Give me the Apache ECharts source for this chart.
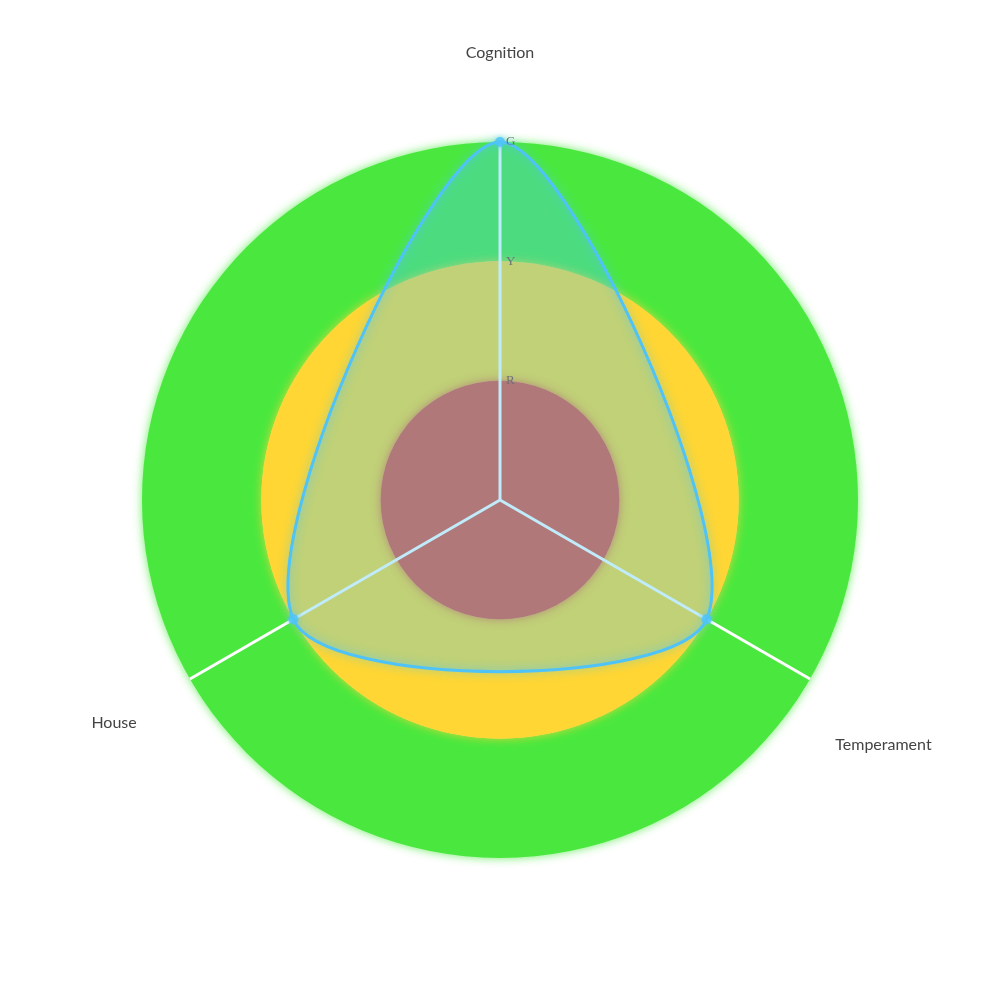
<!DOCTYPE html>
<html><head><meta charset="utf-8">
<style>html,body{margin:0;padding:0;background:#fff}#c{width:1000px;height:1000px}</style>
<script src="https://cdn.jsdelivr.net/npm/echarts@6/dist/echarts.min.js"></script>
</head><body><div id="c"></div>
<script>
const indicatorNames = ['Cognition', 'House', 'Temperament'];
const indicatorMax = [3, 3, 3];
const seriesValues = [3, 2, 2];
const tickLabels = ['', 'R', 'Y', 'G'];
const bandColors = ['#E64B34', '#FFD633', '#4AE83F'];
const bandShadows = ['rgba(230,75,52,0.8)', 'rgba(255,214,51,0.8)', 'rgba(74,232,63,0.8)'];

const R = 358;
const nameKeys = ['n0', 'n1', 'n2'];
const nameFont = { fontFamily: 'Lato', fontSize: 16, color: '#444' };
const indicators = indicatorNames.map((n, i) => ({ name: n, max: indicatorMax[i], min: 0 }));

// one radar per band so each band gets its own soft edge
function bandRadar(k, withNames) {
  const colors = [];
  for (let j = 0; j <= k; j++) colors.push(j === k ? bandColors[k] : 'rgba(0,0,0,0)');
  return {
    center: ['50%', '50%'],
    radius: R * (k + 1) / 3,
    startAngle: 90,
    shape: 'circle',
    splitNumber: k + 1,
    indicator: indicators,
    nameGap: 28 + R * (2 - k) / 3,
    axisName: withNames ? {
      fontFamily: 'Lato', fontSize: 16, color: '#444',
      formatter: (name) => '{' + nameKeys[indicatorNames.indexOf(name)] + '|' + name + '}',
      rich: {
        n0: Object.assign({ padding: [0, 0, 53, 0] }, nameFont),
        n1: Object.assign({ padding: [60, 29, 0, 0] }, nameFont),
        n2: Object.assign({ padding: [104, 0, 0, 1] }, nameFont)
      }
    } : { show: false },
    splitArea: { show: true, areaStyle: { color: colors, shadowBlur: 10, shadowColor: bandShadows[k] } },
    splitLine: { show: false },
    axisLine: { show: false },
    axisTick: { show: false },
    axisLabel: { show: false }
  };
}

const chart = echarts.init(document.getElementById('c'));
chart.setOption({
  animation: false,
  radar: [bandRadar(2, true), bandRadar(1, false), bandRadar(0, false)],
  polar: { center: ['50%', '50%'], radius: R },
  angleAxis: {
    type: 'category', data: indicatorNames, startAngle: 90, clockwise: false, boundaryGap: false,
    axisLine: { show: false }, axisTick: { show: false }, axisLabel: { show: false },
    splitLine: { show: true, lineStyle: { color: '#fff', width: 3 } }, splitArea: { show: false },
    z: 3
  },
  radiusAxis: {
    type: 'value', min: 0, max: 3, interval: 1,
    axisLine: { show: false }, axisTick: { show: false },
    splitLine: { show: false }, splitArea: { show: false },
    axisLabel: {
      show: true, showMinLabel: false, margin: -6, align: 'left',
      fontFamily: 'Liberation Serif', fontSize: 13, color: '#6E7079',
      formatter: v => tickLabels[Math.round(v)] || ''
    },
    z: 10
  },
  series: [{
    type: 'custom',
    coordinateSystem: 'polar',
    z: 5,
    clip: false,
    data: seriesValues.map((v, i) => [v, i]),
    renderItem: (params, api) => {
      if (params.dataIndex !== 0) return null;
      const pts = seriesValues.map((v, i) => api.coord([v, i]));
      return {
        type: 'group',
        children: [{
          type: 'polygon',
          shape: { points: pts, smooth: 0.33 },
          style: { fill: 'rgba(80,200,240,0.36)', stroke: 'none' }
        }, {
          type: 'polygon',
          shape: { points: pts, smooth: 0.33 },
          style: {
            fill: 'none', stroke: '#4FC3F7', lineWidth: 3,
            shadowBlur: 10, shadowColor: 'rgba(80,200,240,0.8)'
          }
        }]
      };
    }
  }, {
    type: 'scatter',
    coordinateSystem: 'polar',
    z: 6,
    symbol: 'circle',
    symbolSize: 10,
    itemStyle: { color: '#4FC3F7', shadowBlur: 4, shadowColor: 'rgba(80,200,240,0.8)' },
    data: seriesValues.map((v, i) => [v, i])
  }]
});
</script></body></html>
